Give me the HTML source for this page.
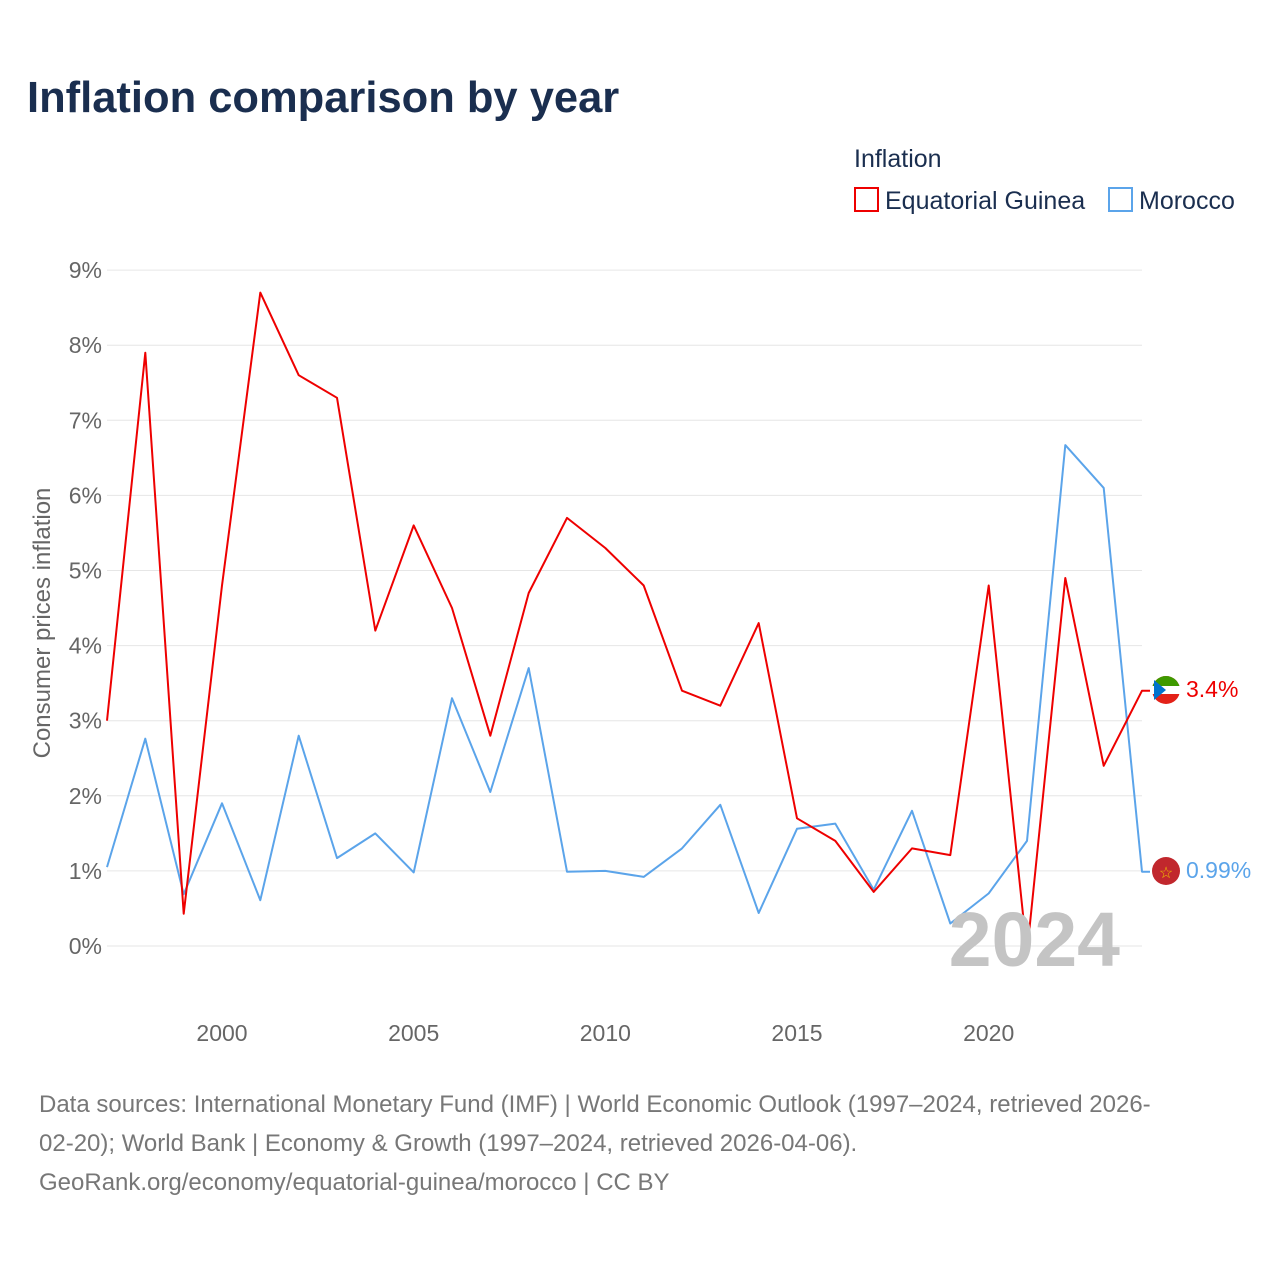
<!DOCTYPE html>
<html><head><meta charset="utf-8"><style>
body{margin:0;background:#fff;font-family:"Liberation Sans",sans-serif;}
#wrap{position:relative;width:1280px;height:1280px;overflow:hidden}
</style></head><body>
<div id="wrap">
<svg id="chart" width="1280" height="1280">
<text x="27" y="112" font-size="43.5" font-weight="bold" fill="#1a2e4f">Inflation comparison by year</text>
<text x="854" y="167" font-size="25" fill="#1a2e4f">Inflation</text>
<g><rect x="855" y="188" width="23" height="23" fill="none" stroke="#ee0000" stroke-width="2"/><text x="885" y="209" font-size="25" fill="#1a2e4f">Equatorial Guinea</text></g>
<g><rect x="1109" y="188" width="23" height="23" fill="none" stroke="#5ba4ea" stroke-width="2"/><text x="1139" y="209" font-size="25" fill="#1a2e4f">Morocco</text></g>
<g id="grid"></g><g id="series"></g>
<text transform="translate(50,623) rotate(-90)" text-anchor="middle" font-size="24" fill="#666">Consumer prices inflation</text>
<text x="1120" y="966" text-anchor="end" font-size="77" font-weight="bold" fill="#c4c4c4">2024</text>
<g><circle cx="1166" cy="690" r="14" fill="#e32118"/><path d="M1152 690 A14 14 0 0 1 1180 690 Z" fill="#3e9a00"/><rect x="1152" y="686" width="28" height="8" fill="#fff"/><path d="M1154 680 L1166 690 L1154 700 Z" fill="#0073ce"/></g>
<g><circle cx="1166" cy="871" r="14" fill="#c1272d"/><text x="1166" y="878" text-anchor="middle" font-size="16" fill="#f0c000">☆</text></g>
<text x="1186" y="697" font-size="23" fill="#ee0000">3.4%</text>
<text x="1186" y="878" font-size="23" fill="#5ba4ea">0.99%</text>
</svg>
<div style="position:absolute;left:39px;top:1085px;width:1230px;font-size:24px;line-height:39px;color:#777;white-space:nowrap">Data sources: International Monetary Fund (IMF) | World Economic Outlook (1997–2024, retrieved 2026-<br>02-20); World Bank | Economy &amp; Growth (1997–2024, retrieved 2026-04-06).<br>GeoRank.org/economy/equatorial-guinea/morocco | CC BY</div>
</div>
<script>
const years=[1997,1998,1999,2000,2001,2002,2003,2004,2005,2006,2007,2008,2009,2010,2011,2012,2013,2014,2015,2016,2017,2018,2019,2020,2021,2022,2023,2024];
const guinea=[3.0,7.9,0.43,4.8,8.7,7.6,7.3,4.2,5.6,4.5,2.8,4.7,5.7,5.3,4.8,3.4,3.2,4.3,1.7,1.4,0.72,1.3,1.21,4.8,-0.09,4.9,2.4,3.4];
const morocco=[1.05,2.76,0.69,1.9,0.61,2.8,1.17,1.5,0.98,3.3,2.05,3.7,0.99,1.0,0.92,1.3,1.88,0.44,1.56,1.63,0.75,1.8,0.3,0.7,1.4,6.67,6.1,0.99];
const yTicks=[0,1,2,3,4,5,6,7,8,9];
const xTicks=[2000,2005,2010,2015,2020];
const X=y=>107+(y-1997)*(1142-107)/27;
const Y=v=>946-v*75.1;
const NS="http://www.w3.org/2000/svg";
const grid=document.getElementById('grid'),ser=document.getElementById('series');
function mk(t,a,p){const e=document.createElementNS(NS,t);for(const k in a)e.setAttribute(k,a[k]);p.appendChild(e);return e;}
yTicks.forEach(v=>{
 const l=mk('line',{x1:107,x2:1142,y1:Y(v),y2:Y(v),stroke:'#e6e6e6','stroke-width':1},grid);
 
 
 const t=mk('text',{x:102,y:Y(v)+8,'text-anchor':'end','font-size':23,fill:'#666'},grid);t.textContent=v+'%';
 
 
});
xTicks.forEach(v=>{
 const t=mk('text',{x:X(v),y:1041,'text-anchor':'middle','font-size':23,fill:'#666'},grid);t.textContent=v;
 
 
});
function line(vals,col,name){
 let d=vals.map((v,i)=>(i?'L':'M')+X(years[i]).toFixed(1)+' '+Y(v).toFixed(1)).join(' ');
 d+=' L'+(X(2024)+8)+' '+Y(vals[vals.length-1]).toFixed(1);
 const p=mk('path',{d:d,fill:'none',stroke:col,'stroke-width':2,'stroke-linejoin':'round'},ser);
 
 
}
line(morocco,'#5ba4ea','series-morocco');
line(guinea,'#ee0000','series-equatorial-guinea');
</script>
</body></html>
